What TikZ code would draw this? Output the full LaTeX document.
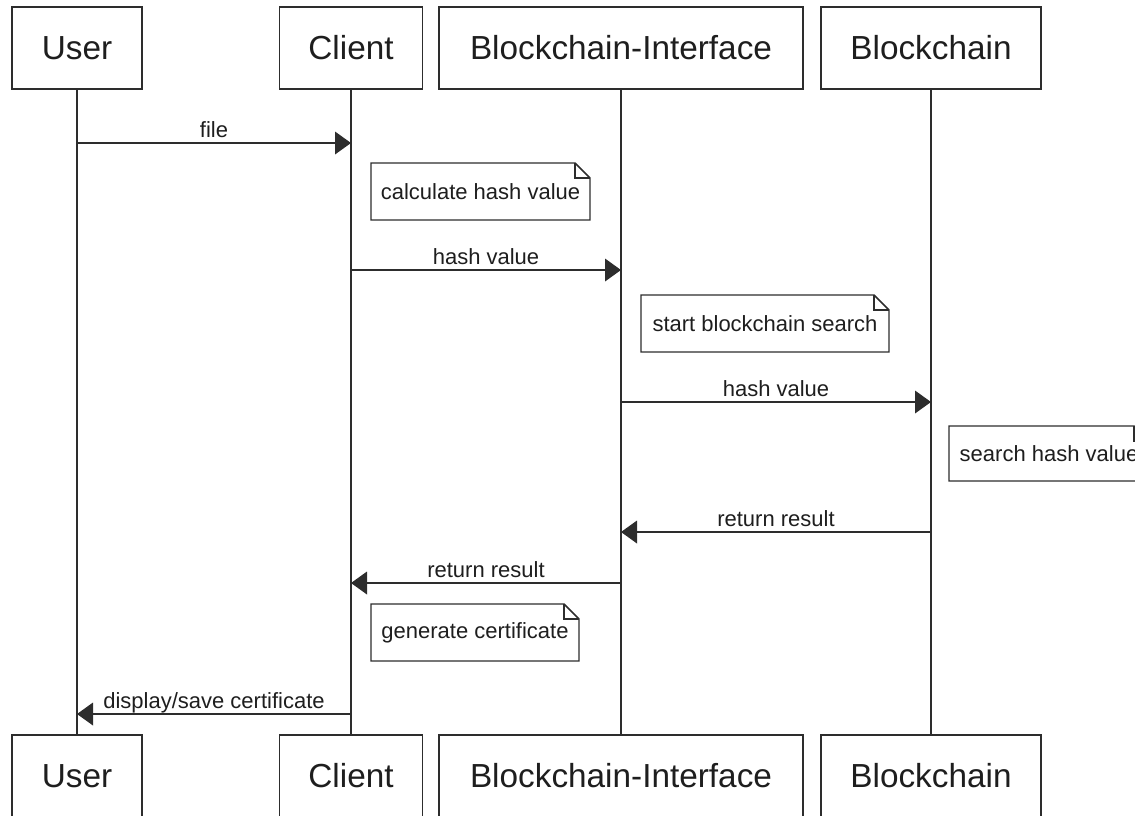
\documentclass[tikz,border=0pt]{standalone}
\usepackage{fontspec}
\setmainfont{Liberation Sans}
\usetikzlibrary{arrows.meta}

\definecolor{linegray}{RGB}{45,45,45}
\definecolor{textgray}{RGB}{30,30,30}

\tikzset{
  actor/.style={draw=linegray, line width=1.1pt, fill=white, minimum width=#1, minimum height=61.5pt, inner sep=0pt, text=textgray, font=\fontsize{25}{30}\selectfont},
  lifeline/.style={draw=linegray, line width=1.1pt},
  msg/.style={draw=linegray, line width=1.1pt, -{Triangle[length=12pt,width=17pt]}},
  msglabel/.style={above, midway, inner sep=1pt, text height=0.75em, text depth=0.25em, text=textgray, font=\fontsize{16.5}{20}\selectfont},
  notebox/.style={draw=linegray, line width=1.1pt, fill=white},
  notetext/.style={inner sep=0pt, text=textgray, font=\fontsize{16.5}{20}\selectfont}
}

% note with folded corner: name, left, top, right, bottom, text
\newcommand{\drawnote}[6]{%
  \draw[notebox] (#2,#5) -- (#2,#3) -- ({#4-15},#3) -- (#4,{#3+15}) -- (#4,#5) -- cycle;
  \draw[notebox, fill=none] ({#4-15},#3) -- ({#4-15},{#3+15}) -- (#4,{#3+15});
  \node[notetext] (#1) at ({(#2+#4)/2},{(#3+#5)/2}) {#6};}

\begin{document}
\begin{tikzpicture}[x=0.75pt,y=0.75pt,yscale=-1,xscale=1]
\path[use as bounding box, clip] (0,0) rectangle (1135,815);

% Actors top
\node[actor=97.5pt] (userT) at (77,48) {User};
\node[actor=107.25pt] (clientT) at (351,48) {Client};
\node[actor=273pt] (ifaceT) at (621,48) {Blockchain-Interface};
\node[actor=165pt] (chainT) at (931,48) {Blockchain};
% Actors bottom
\node[actor=97.5pt] (userB) at (77,776) {User};
\node[actor=107.25pt] (clientB) at (351,776) {Client};
\node[actor=273pt] (ifaceB) at (621,776) {Blockchain-Interface};
\node[actor=165pt] (chainB) at (931,776) {Blockchain};

% Lifelines
\draw[lifeline] (userT) -- (userB);
\draw[lifeline] (clientT) -- (clientB);
\draw[lifeline] (ifaceT) -- (ifaceB);
\draw[lifeline] (chainT) -- (chainB);

% Messages
\draw[msg] (userT |- 0,143) -- (clientT |- 0,143) node[msglabel] {file};
\draw[msg] (clientT |- 0,270) -- (ifaceT |- 0,270) node[msglabel] {hash value};
\draw[msg] (ifaceT |- 0,402) -- (chainT |- 0,402) node[msglabel] {hash value};
\draw[msg] (chainT |- 0,532) -- (ifaceT |- 0,532) node[msglabel] {return result};
\draw[msg] (ifaceT |- 0,583) -- (clientT |- 0,583) node[msglabel] {return result};
\draw[msg] (clientT |- 0,714) -- (userT |- 0,714) node[msglabel] {display/save certificate};

% Notes
\drawnote{calc}{371}{163}{590}{220}{calculate hash value}
\drawnote{start}{641}{295}{889}{352}{start blockchain search}
\drawnote{search}{949}{426}{1149}{481}{search hash value}
\drawnote{gen}{371}{604}{579}{661}{generate certificate}

\end{tikzpicture}
\end{document}
